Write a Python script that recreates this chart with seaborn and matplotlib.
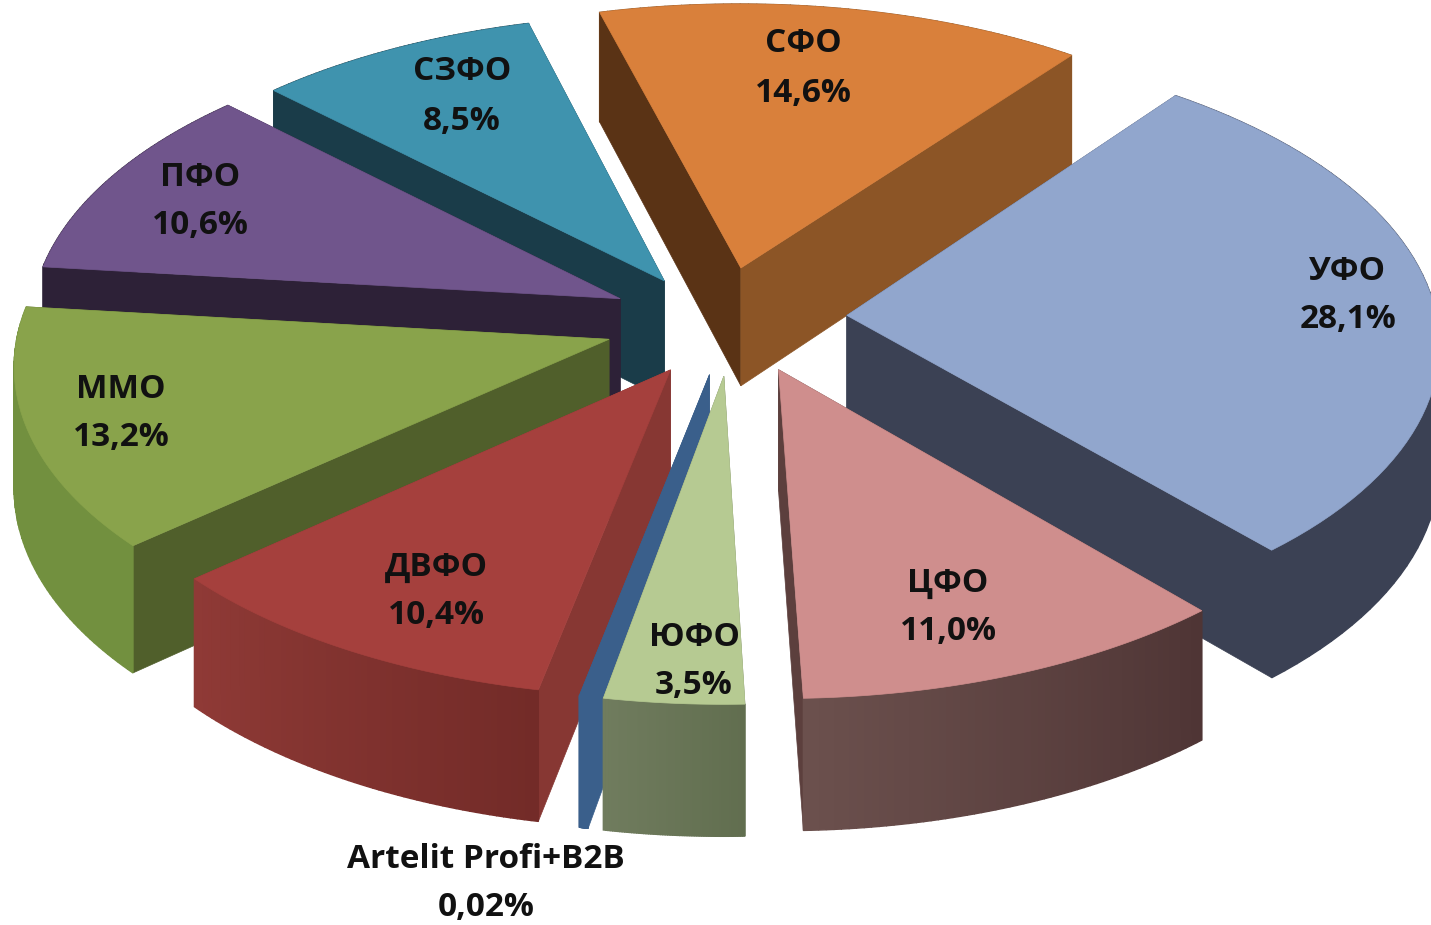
import numpy as np
import matplotlib
matplotlib.use('Agg')
import matplotlib.pyplot as plt
from matplotlib.colors import to_rgb
import seaborn as sns

regions = ['СФО', 'УФО', 'ЦФО', 'ЮФО', 'Artelit Profi+B2B', 'ДВФО', 'ММО', 'ПФО', 'СЗФО']
shares = [14.6, 28.1, 11.0, 3.5, 0.02, 10.4, 13.2, 10.6, 8.5]
labels = ['14,6%', '28,1%', '11,0%', '3,5%', '0,02%', '10,4%', '13,2%', '10,6%', '8,5%']

top_colors = ['#d9803b', '#91a6cd', '#cf8e8d', '#b6ca92', '#3a5f8b', '#a5403d', '#89a34b', '#70558c', '#3f93ae']
start_walls = ['#5a3315', '#3b4154', '#5c3f3d', '#6f7b5d', '#3a5f8b', '#873733', '#505f2b', '#2d2137', '#1a3c49']
end_walls = ['#8c5526', '#3b4154', '#5c3f3d', '#6f7b5d', '#3a5f8b', '#873733', '#505f2b', '#2d2137', '#1a3c49']
outer_a = ['#8c5526', '#3b4154', '#4f3535', '#616e4f', '#3a5f8b', '#732b28', '#72903f', '#2d2137', '#1a3c49']
outer_b = ['#8c5526', '#3b4154', '#6b504d', '#707c5e', '#3a5f8b', '#8f3a36', '#72903f', '#2d2137', '#1a3c49']
explode = [135, 150, 95, 80, 80, 80, 95, 100, 120]
# extra shift of each slice on screen
nudge_x = [10, -8, 38, 25, 20, 6, -5, 5, 19]
nudge_y = [-2, -17, -10, 1, 0, 0, -10, -15, -3]

# label places in pixels
label_x = [803, 1348, 948, 694, 486, 436, 121, 200, 462]
label_y = [68, 295, 607, 661, 883, 591, 413, 201, 96]

CX, CY = 705, 335
R = 590
K = 0.5
PERSP = 0.08
DEPTH = 120
START = -15
MIN_SWEEP = 0.8


def project(x, y, z=0.0):
    s = 1 / (1 + PERSP * y / R)
    return CX + s * x, CY - s * K * y + s * z


sweeps = np.maximum(np.array(shares) / sum(shares) * 360, MIN_SWEEP)
sweeps = sweeps * 360 / sweeps.sum()
edges = START + np.concatenate([[0], np.cumsum(sweeps)])

sns.set_theme(style='white')
plt.rcParams['font.family'] = ['Open Sans', 'DejaVu Sans']
fig, ax = plt.subplots(figsize=(14.31, 9.25), dpi=100)
fig.subplots_adjust(0, 0, 1, 1)
ax.set_xlim(0, 1431)
ax.set_ylim(925, 0)
ax.axis('off')

mids = (edges[:-1] + edges[1:]) / 2
ex = np.array(explode) * np.sin(np.radians(mids))
ey = np.array(explode) * np.cos(np.radians(mids))

# back wedges first
order = np.argsort(-ey)
for i in order:
    th = np.radians(np.linspace(edges[i], edges[i + 1], 60))
    xs = ex[i] + R * np.sin(th)
    ys = ey[i] + R * np.cos(th)
    ax_, ay_ = project(ex[i], ey[i])
    bx_, by_ = project(ex[i], ey[i], DEPTH)
    tx, ty = project(xs, ys)
    ux, uy = project(xs, ys, DEPTH)
    ax_, bx_, tx, ux = ax_ + nudge_x[i], bx_ + nudge_x[i], tx + nudge_x[i], ux + nudge_x[i]
    ay_, by_, ty, uy = ay_ + nudge_y[i], by_ + nudge_y[i], ty + nudge_y[i], uy + nudge_y[i]

    # outer rim, shaded piece by piece
    ca, cb = np.array(to_rgb(outer_a[i])), np.array(to_rgb(outer_b[i]))
    rim = []
    for j in range(len(th) - 1):
        c = ca + (cb - ca) * j / (len(th) - 2)
        rim.append(([tx[j], tx[j + 1], ux[j + 1], ux[j]], [ty[j], ty[j + 1], uy[j + 1], uy[j]], c))

    walls = [
        ([ax_, tx[0], ux[0], bx_], [ay_, ty[0], uy[0], by_], start_walls[i]),
        ([ax_, tx[-1], ux[-1], bx_], [ay_, ty[-1], uy[-1], by_], end_walls[i]),
    ]
    front_rim = np.cos(np.radians(mids[i])) < 0.2
    if not front_rim:
        for px, py, c in rim:
            ax.fill(px, py, color=c, lw=1)
    for px, py, c in walls:
        ax.fill(px, py, color=c, lw=0.5)
    if front_rim:
        for px, py, c in rim:
            ax.fill(px, py, color=c, lw=1)
    ax.fill(np.r_[ax_, tx], np.r_[ay_, ty], color=top_colors[i], lw=0.5)

for name, val, lx, ly in zip(regions, labels, label_x, label_y):
    ax.text(lx, ly - 24, name, ha='center', va='center', fontsize=24, fontweight='bold', color='#111111')
    ax.text(lx, ly + 25, val, ha='center', va='center', fontsize=24, fontweight='bold', color='#111111')

fig.savefig('out.png', dpi=100)
